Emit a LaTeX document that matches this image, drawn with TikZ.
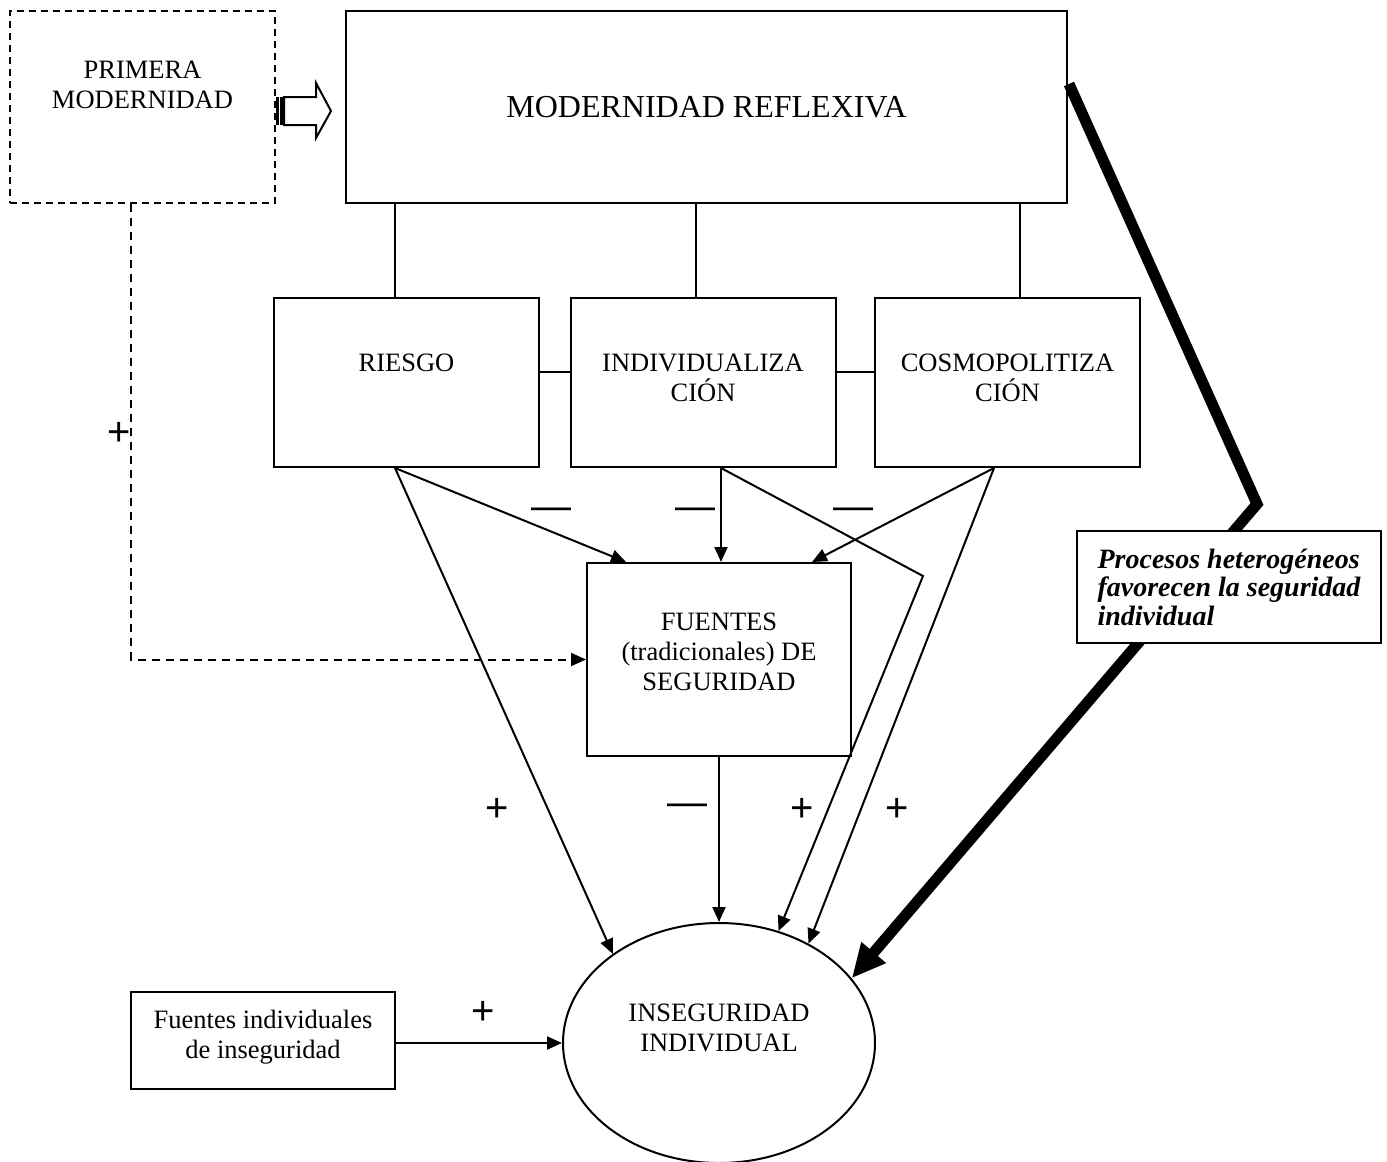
\documentclass[tikz,border=0pt]{standalone}
\usepackage{fontspec}
\setmainfont{Liberation Serif}
\newfontfamily\signfont{Liberation Sans}
\usetikzlibrary{arrows.meta,calc,shapes.geometric}
\pgfdeclarelayer{bg}
\pgfsetlayers{bg,main}
\begin{document}
\begin{tikzpicture}[x=0.5pt,y=-0.5pt,
  box/.style={draw, line width=1pt, rectangle, inner sep=0pt},
  dbox/.style={box, dash pattern=on 3.5pt off 2.5pt},
  txt/.style={inner sep=0pt, align=center, font=\fontsize{13.25}{15}\selectfont},
  sign/.style={inner sep=0pt, font=\signfont\fontsize{20}{20}\selectfont},
  conn/.style={line width=1pt},
  arr/.style={conn, -{Triangle[length=7.5pt,width=6.5pt]}},
  bigarr/.style={line width=5.5pt, line join=miter, -{Triangle[length=17pt,width=15pt]}}
]
\useasboundingbox (0,0) rectangle (1387,1162);

% boxes
\node[dbox, minimum width=132.5pt, minimum height=96pt] (prim) at (142.5,107) {};
\node[box, minimum width=360.5pt, minimum height=96pt, font=\fontsize{16}{18}\selectfont] (mr) at (706.5,107) {MODERNIDAD REFLEXIVA};
\node[box, minimum width=132.5pt, minimum height=84.5pt] (riesgo) at (406.5,382.5) {};
\node[box, minimum width=132.5pt, minimum height=84.5pt] (indiv) at (703.5,382.5) {};
\node[box, minimum width=132.5pt, minimum height=84.5pt] (cosmo) at (1007.5,382.5) {};
\node[box, minimum width=132pt, minimum height=96.5pt] (fuentes) at (719,659.5) {};
\node[draw, line width=1pt, ellipse, inner sep=0pt, minimum width=156pt, minimum height=120pt] (ell) at (719,1043) {};
\node[box, minimum width=132pt, minimum height=48.5pt] (fi) at (263,1040.5) {};
\node[box, fill=white, minimum width=152pt, minimum height=56pt, align=left,
      font=\fontsize{14}{14.25}\selectfont\bfseries\itshape] (lab) at (1229,587)
      {Procesos heterogéneos\\favorecen la seguridad\\individual};

% texts
\node[txt, anchor=north] (primT) at (142.5,61) {PRIMERA\\MODERNIDAD};
\node[txt, anchor=north] (riesgoT) at (406.5,354) {RIESGO};
\node[txt, anchor=north] (indivT) at (703,354) {INDIVIDUALIZA\\CIÓN};
\node[txt, anchor=north] (cosmoT) at (1007.5,354) {COSMOPOLITIZA\\CIÓN};
\node[txt, anchor=north] (fuentesT) at (719,613) {FUENTES\\(tradicionales) DE\\SEGURIDAD};
\node[txt, anchor=north] (ellT) at (719,1004) {INSEGURIDAD\\INDIVIDUAL};
\node[txt] (fiT) at (263,1037) {Fuentes individuales\\de inseguridad};

% hollow arrow
\fill ($(prim.east)+(0,-10)$) rectangle ($(prim.east)+(3,18)$);
\draw[line width=0.6pt] ($(prim.east)+(5,-10)$) -- ++(0,28);
\draw[line width=0.6pt] ($(prim.east)+(7,-10)$) -- ++(0,28);
\draw[line width=1pt] ($(prim.east)+(8,-10)$) -- ++(32,0) -- ++(0,-14) -- ++(15,28)
   -- ++(-15,27) -- ++(0,-13) -- ++(-32,0) -- cycle;

% vertical and horizontal links
\draw[conn] (riesgo.north) ++(-11.5,0) coordinate (v1) -- (v1 |- mr.south);
\draw[conn] (indiv.north) ++(-7.5,0) coordinate (v2) -- (v2 |- mr.south);
\draw[conn] (cosmo.north) ++(12.5,0) coordinate (v3) -- (v3 |- mr.south);
\draw[conn] (riesgo.east) ++(0,-10.5) coordinate (h1) -- (h1 -| indiv.west);
\draw[conn] (indiv.east) ++(0,-10.5) coordinate (h2) -- (h2 -| cosmo.west);

% arrows
\coordinate (rS) at ($(riesgo.south)+(-11.5,0)$);
\coordinate (iS) at ($(indiv.south)+(17.5,0)$);
\coordinate (cS) at ($(cosmo.south)+(-13.5,0)$);
\draw[arr] (rS) -- ($(fuentes.north west)+(40,0)$);
\draw[arr] (rS) -- (ell.140);
\draw[arr] (iS) -- (iS |- fuentes.north);
\draw[arr] (iS) -- ($(fuentes.north east)+(71,14)$) -- (ell.62);
\draw[arr] (cS) -- ($(fuentes.north west)+(226,0)$);
\draw[arr] (cS) -- (ell.48);
\draw[arr] (fuentes.south) -- (ell.north);
\draw[arr] (fi.east |- ell.west) -- (ell.west);
\draw[conn, dash pattern=on 4pt off 3pt, -{Triangle[length=7.5pt,width=6.5pt]}]
  ($(prim.south)+(-11.5,0)$) |- (fuentes.west);

\begin{pgfonlayer}{bg}
\draw[bigarr] ($(mr.north east)+(1,74)$) -- ($(lab.north)+(28,-26)$) -- (ell.26);
\end{pgfonlayer}

% signs
\node[sign] (m1) at (551,514) {—};
\node[sign] (m2) at (695,514) {—};
\node[sign] (m3) at (853,514) {—};
\node[sign] (m4) at (687,810) {—};
\node[sign] (p1) at (119,434) {+};
\node[sign] (p2) at (497,810) {+};
\node[sign] (p3) at (802,810) {+};
\node[sign] (p4) at (897,810) {+};
\node[sign] (p5) at (483,1013) {+};
\end{tikzpicture}
\end{document}
